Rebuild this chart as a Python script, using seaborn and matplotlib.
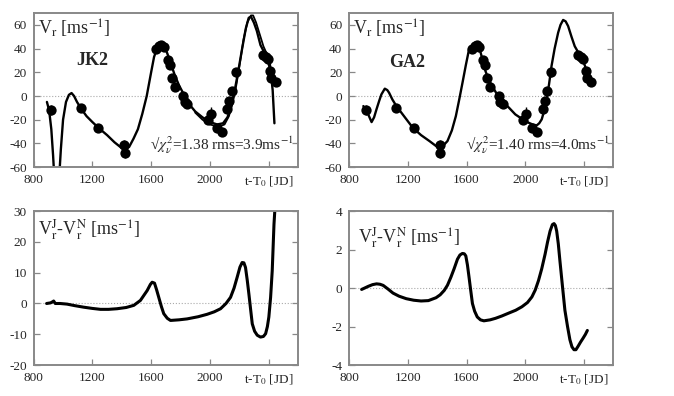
import numpy as np
import pandas as pd
import matplotlib
matplotlib.use('Agg')
import matplotlib.pyplot as plt
import seaborn as sns

# observed radial velocities (same set for both fits)
t_obs = [915, 1120, 1240, 1418, 1420, 1635, 1655, 1670, 1685, 1712, 1728, 1742, 1760,
         1820, 1830, 1845, 1985, 2005, 2048, 2080, 2118, 2132, 2148, 2175, 2362,
         2380, 2395, 2412, 2420, 2448]
v_obs = [-12, -10, -27, -41, -48, 40, 42, 43, 41, 30, 26, 15, 8,
         0, -5, -7, -20, -15, -27, -30, -11, -4, 4, 20, 35,
         33, 31, 21, 15, 12]
v_err = [4, 3, 3, 4, 4, 3, 3, 3, 3, 3, 3, 3, 3,
         3, 3, 3, 4, 6, 3, 3, 3, 3, 3, 4, 3,
         3, 3, 3, 3, 3]

# JK2 model, first curve
jk2_t1 = [890, 905, 920, 932, 942, 972, 985, 1000, 1020, 1040, 1058, 1075, 1095, 1125,
          1160, 1200, 1243, 1300, 1350, 1400, 1425, 1450, 1480, 1510, 1540, 1570,
          1600, 1620, 1640, 1665, 1690, 1710, 1735, 1760, 1790, 1820, 1860, 1900,
          1950, 2000, 2050, 2090, 2120, 2145, 2170, 2195, 2220, 2245, 2265, 2280,
          2300, 2320, 2345, 2370, 2395, 2415, 2428, 2440]
jk2_v1 = [-5, -12, -28, -50, -72, -72, -45, -20, -5, 1, 2.5, 0, -5, -11,
          -17, -22, -27, -33, -39, -44, -45, -43, -36, -28, -15, 0,
          20, 33, 40, 44, 42, 36, 27, 18, 9, 2, -7, -13,
          -18, -22, -24, -23, -18, -9, 5, 22, 40, 57, 66, 67,
          62, 55, 43, 37, 30, 20, 5, -23]

# JK2 model, second curve (differs only late)
jk2_t2 = [1900, 1950, 2000, 2060, 2100, 2130, 2155, 2180, 2205, 2230, 2255, 2280,
          2295, 2315, 2340, 2365, 2390, 2410, 2422]
jk2_v2 = [-14, -20, -24, -26, -24, -17, -6, 9, 28, 48, 62, 68,
          68, 62, 52, 42, 35, 28, 14]

# GA2 model
ga2_t = [897, 915, 930, 953, 970, 987, 1005, 1020, 1043, 1060, 1072, 1095, 1122,
         1180, 1234, 1290, 1347, 1390, 1414, 1440, 1470, 1500, 1527, 1550, 1572,
         1595, 1617, 1640, 1662, 1680, 1696, 1712, 1729, 1750, 1774, 1800, 1842,
         1890, 1932, 1980, 2022, 2050, 2078, 2095, 2112, 2130, 2146, 2162, 2179,
         2200, 2224, 2240, 2258, 2275, 2292, 2315, 2337, 2360, 2382, 2405, 2427, 2454]
ga2_v = [-8.5, -12, -15.5, -22, -18, -11, -4, 1.4, 6.2, 5, 2.8, -3, -8.5,
         -18, -26.8, -33, -38, -42, -43.7, -42, -38, -29, -17, -3, 11,
         26, 39.4, 43, 43.7, 41, 36.6, 29, 21, 14, 8.5, 3, -4.2,
         -10, -15.5, -19.5, -22.5, -24, -24.8, -23, -19.7, -12, -2.8, 10, 25.4,
         40, 53.5, 60, 64.2, 63, 59, 50, 42, 37, 33.8, 26, 18.3, 11.3]

# Jacobi - Newton differences
djk_t = [888, 915, 930, 936, 947, 980, 1027, 1080, 1141, 1200, 1255, 1310, 1368,
         1430, 1482, 1527, 1573, 1595, 1607, 1623, 1637, 1652, 1670, 1686, 1710,
         1732, 1790, 1845, 1920, 1982, 2030, 2073, 2110, 2141, 2165, 2186, 2205,
         2220, 2232, 2243, 2255, 2266, 2278, 2289, 2305, 2323, 2345, 2365, 2380,
         2392, 2402, 2414, 2425, 2437, 2445]
djk_v = [0, 0.2, 0.6, 0.8, 0, 0, -0.2, -0.7, -1.2, -1.6, -1.9, -1.9, -1.7,
         -1.3, -0.6, 1, 4.2, 6.2, 6.9, 6.6, 4.5, 2, -1, -3.3, -4.8,
         -5.5, -5.3, -5, -4.3, -3.5, -2.7, -1.7, 0, 2, 5, 8.5, 11.8,
         13.3, 13.2, 11.7, 7.5, 3.1, -2, -6.6, -9, -10.3, -10.9, -10.7, -9.8,
         -7.5, -4.4, 2, 10.6, 25.7, 32]

dga_t = [885, 905, 930, 960, 987, 1010, 1032, 1065, 1099, 1140, 1189, 1240, 1290,
         1340, 1392, 1420, 1448, 1470, 1493, 1515, 1538, 1555, 1572, 1585, 1595,
         1606, 1617, 1628, 1640, 1655, 1673, 1695, 1718, 1760, 1797, 1840, 1887,
         1935, 1977, 2015, 2045, 2068, 2090, 2112, 2135, 2152, 2169, 2185, 2196,
         2205, 2214, 2225, 2236, 2252, 2270, 2288, 2304, 2318, 2332, 2345, 2360,
         2377, 2394, 2410, 2423]
dga_v = [-0.07, 0, 0.09, 0.18, 0.22, 0.2, 0.14, -0.05, -0.26, -0.42, -0.55, -0.63, -0.67,
         -0.65, -0.5, -0.35, -0.12, 0.15, 0.56, 1.0, 1.5, 1.72, 1.8, 1.78, 1.67,
         1.2, 0.56, -0.1, -0.8, -1.2, -1.5, -1.65, -1.7, -1.65, -1.57, -1.45, -1.3,
         -1.15, -0.97, -0.75, -0.46, -0.1, 0.39, 1.0, 1.76, 2.4, 2.96, 3.3, 3.35,
         3.25, 2.96, 2.3, 1.42, 0.2, -1.15, -2.0, -2.68, -3.05, -3.2, -3.2, -3.02,
         -2.8, -2.6, -2.4, -2.2]

xticks = [800, 1200, 1600, 2000, 2400]
xticklabels = ['800', '1200', '1600', '2000', 't-T$_0$ [JD]']

sns.set_style('white')
plt.rcParams['font.family'] = ['Liberation Serif', 'DejaVu Serif']
plt.rcParams['mathtext.fontset'] = 'stix'

fig = plt.figure(figsize=(6.74, 3.96), dpi=100)
w, h = 0.392, 0.389
ax_tl = fig.add_axes([0.050, 0.578, w, h])
ax_tr = fig.add_axes([0.518, 0.578, w, h])
ax_bl = fig.add_axes([0.050, 0.078, w, h])
ax_br = fig.add_axes([0.518, 0.078, w, h])

obs = pd.DataFrame({'t': t_obs, 'v': v_obs})


def style(ax, ylim, yticks):
    ax.set_xlim(800, 2600)
    ax.set_ylim(*ylim)
    ax.set_xticks(xticks)
    ax.set_xticklabels(xticklabels)
    ax.set_yticks(yticks)
    ax.set_yticklabels([str(v) for v in yticks])
    ax.tick_params(direction='in', length=4, width=0.9, color='#888888',
                   labelsize=9.5, right=True, left=True, bottom=True, top=False)
    ax.tick_params(axis='x', pad=5)
    ax.tick_params(axis='y', pad=5)
    for s in ax.spines.values():
        s.set_color('#888888')
        s.set_linewidth(1.4)
    ax.axhline(0, color='#aaaaaa', lw=0.8, ls=':', zorder=0)
    ax.set_xlabel('')
    ax.set_ylabel('')


def draw_obs(ax):
    ax.errorbar(t_obs, v_obs, yerr=v_err, fmt='none', ecolor='black', elinewidth=1, zorder=3)
    sns.scatterplot(data=obs, x='t', y='v', ax=ax, color='black', s=55,
                    edgecolor='black', linewidth=0, zorder=4)


# top left: JK2
sns.lineplot(x=jk2_t1, y=jk2_v1, ax=ax_tl, sort=False, color='black', lw=1.7)
sns.lineplot(x=jk2_t2, y=jk2_v2, ax=ax_tl, sort=False, color='black', lw=1.3)
draw_obs(ax_tl)
style(ax_tl, (-60, 70), [-60, -40, -20, 0, 20, 40, 60])
ax_tl.text(0.015, 0.9, r'V$_\mathrm{r}$ [ms$^{-1}$]', transform=ax_tl.transAxes,
           fontsize=13, va='center')
ax_tl.text(0.22, 0.695, 'JK2', transform=ax_tl.transAxes, fontsize=13,
           fontweight='bold', ha='center', va='center')
ax_tl.text(0.985, 0.14, '√' + r'$\chi^2_\nu$=1.38 rms=3.9ms$^{-1}$', transform=ax_tl.transAxes,
           fontsize=11, ha='right', va='center')

# top right: GA2
sns.lineplot(x=ga2_t, y=ga2_v, ax=ax_tr, sort=False, color='black', lw=1.7)
draw_obs(ax_tr)
style(ax_tr, (-60, 70), [-60, -40, -20, 0, 20, 40, 60])
ax_tr.text(0.015, 0.9, r'V$_\mathrm{r}$ [ms$^{-1}$]', transform=ax_tr.transAxes,
           fontsize=13, va='center')
ax_tr.text(0.22, 0.68, 'GA2', transform=ax_tr.transAxes, fontsize=13,
           fontweight='bold', ha='center', va='center')
ax_tr.text(0.985, 0.14, '√' + r'$\chi^2_\nu$=1.40 rms=4.0ms$^{-1}$', transform=ax_tr.transAxes,
           fontsize=11, ha='right', va='center')

# bottom: differences
sns.lineplot(x=djk_t, y=djk_v, ax=ax_bl, sort=False, color='black', lw=2.2)
style(ax_bl, (-20, 30), [-20, -10, 0, 10, 20, 30])
ax_bl.text(0.015, 0.88, r'V$^\mathrm{J}_\mathrm{r}$-V$^\mathrm{N}_\mathrm{r}$ [ms$^{-1}$]',
           transform=ax_bl.transAxes, fontsize=13, va='center')

sns.lineplot(x=dga_t, y=dga_v, ax=ax_br, sort=False, color='black', lw=2.2)
style(ax_br, (-4, 4), [-4, -2, 0, 2, 4])
ax_br.text(0.035, 0.83, r'V$^\mathrm{J}_\mathrm{r}$-V$^\mathrm{N}_\mathrm{r}$ [ms$^{-1}$]',
           transform=ax_br.transAxes, fontsize=13, va='center')

fig.savefig('out.png', dpi=100)
